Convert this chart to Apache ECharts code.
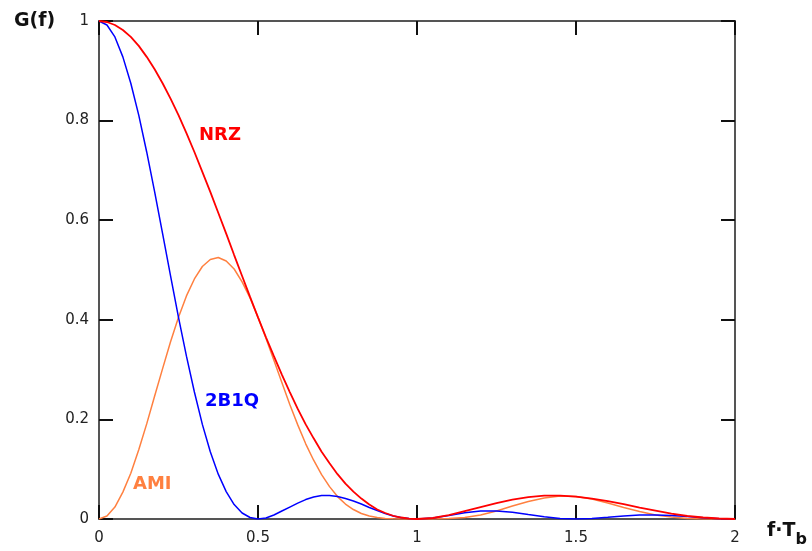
<!DOCTYPE html>
<html lang="en">
<head>
    <meta charset="UTF-8">
    <title>G(f)</title>
    <script src="https://cdn.jsdelivr.net/npm/echarts@6/dist/echarts.min.js" type="text/javascript"></script>
    <style>
        html, body { margin: 0; padding: 0; background: #fff; }
    </style>
</head>
<body>
<div id="spectrum" style="width: 812px;height:551px;"></div>
</body>

<script type="text/javascript">
    // f*Tb samples: finer in the main lobe, coarser past 1
    var freq = [0, 0.025, 0.05, 0.075, 0.1, 0.125, 0.15, 0.175, 0.2, 0.225,
        0.25, 0.275, 0.3, 0.325, 0.35, 0.375, 0.4, 0.425, 0.45, 0.475,
        0.5, 0.525, 0.55, 0.575, 0.6, 0.625, 0.65, 0.675, 0.7, 0.725,
        0.75, 0.775, 0.8, 0.825, 0.85, 0.875, 0.9, 0.925, 0.95, 0.975, 1,
        1.05, 1.1, 1.15, 1.2, 1.25, 1.3, 1.35, 1.4, 1.45, 1.5,
        1.55, 1.6, 1.65, 1.7, 1.75, 1.8, 1.85, 1.9, 1.95, 2];

    var nrz = [1, 0.998, 0.992, 0.982, 0.968, 0.950, 0.928, 0.903, 0.875, 0.844,
        0.811, 0.775, 0.737, 0.697, 0.657, 0.615, 0.573, 0.530, 0.488, 0.446,
        0.405, 0.365, 0.327, 0.290, 0.255, 0.221, 0.190, 0.162, 0.135, 0.112,
        0.090, 0.071, 0.055, 0.041, 0.029, 0.019, 0.012, 0.0065, 0.003, 0.0007, 0,
        0.002, 0.008, 0.016, 0.024, 0.032, 0.039, 0.044, 0.047, 0.047, 0.045,
        0.041, 0.036, 0.030, 0.023, 0.017, 0.011, 0.006, 0.003, 0.001, 0];

    var ami = [0, 0.006, 0.024, 0.054, 0.092, 0.139, 0.191, 0.247, 0.302, 0.356,
        0.405, 0.448, 0.482, 0.507, 0.521, 0.525, 0.518, 0.502, 0.476, 0.444,
        0.405, 0.363, 0.319, 0.274, 0.230, 0.189, 0.151, 0.118, 0.089, 0.065,
        0.045, 0.030, 0.019, 0.011, 0.006, 0.003, 0.001, 0.0004, 0, 0, 0,
        0, 0.001, 0.003, 0.008, 0.016, 0.026, 0.035, 0.042, 0.046, 0.045,
        0.040, 0.032, 0.023, 0.015, 0.008, 0.004, 0.001, 0, 0, 0];

    var b2b1q = [1, 0.992, 0.968, 0.928, 0.875, 0.811, 0.737, 0.657, 0.573, 0.488,
        0.405, 0.327, 0.255, 0.190, 0.135, 0.090, 0.055, 0.029, 0.012, 0.003,
        0, 0.002, 0.008, 0.016, 0.024, 0.032, 0.039, 0.044, 0.047, 0.047,
        0.045, 0.041, 0.036, 0.030, 0.023, 0.017, 0.011, 0.006, 0.003, 0.001, 0,
        0.002, 0.007, 0.0125, 0.016, 0.016, 0.0136, 0.009, 0.0045, 0.001, 0,
        0.001, 0.0034, 0.006, 0.008, 0.008, 0.007, 0.005, 0.0024, 0.0006, 0];

    var xTicks = ['0', '0.5', '1', '1.5', '2'];

    function pairs(ys) {
        return freq.map(function (f, i) { return [f, ys[i]]; });
    }

    var spectrum = echarts.init(document.getElementById('spectrum'));

    var tickStyle = {show: true, inside: true, length: 14, lineStyle: {color: '#111', width: 2}};
    var lineStyle = {show: true, onZero: false, lineStyle: {color: '#555', width: 2}};
    var labelStyle = {color: '#222', fontSize: 15, fontFamily: 'DejaVu Sans'};

    spectrum.setOption({
        animation: false,
        grid: {left: 99, right: 77, top: 21, bottom: 32},
        xAxis: [
            {
                type: 'value', min: 0, max: 2, interval: 0.5, position: 'bottom',
                axisLine: lineStyle, axisTick: tickStyle, splitLine: {show: false},
                axisLabel: Object.assign({margin: 12, formatter: function (v) {
                    return xTicks[Math.round(v * 2)];
                }}, labelStyle)
            },
            {
                type: 'value', min: 0, max: 2, interval: 0.5, position: 'top',
                axisLine: lineStyle, axisTick: tickStyle, splitLine: {show: false},
                axisLabel: {show: false}
            }
        ],
        yAxis: [
            {
                type: 'value', min: 0, max: 1, interval: 0.2, position: 'left',
                axisLine: lineStyle, axisTick: tickStyle, splitLine: {show: false},
                axisLabel: Object.assign({margin: 10}, labelStyle)
            },
            {
                type: 'value', min: 0, max: 1, interval: 0.2, position: 'right',
                axisLine: lineStyle, axisTick: tickStyle, splitLine: {show: false},
                axisLabel: {show: false}
            }
        ],
        series: [
            {
                name: 'AMI', type: 'line', showSymbol: false,
                lineStyle: {color: '#ff8040', width: 1.5},
                data: pairs(ami)
            },
            {
                name: '2B1Q', type: 'line', showSymbol: false,
                lineStyle: {color: '#0000ff', width: 1.5},
                data: pairs(b2b1q)
            },
            {
                name: 'NRZ', type: 'line', showSymbol: false,
                lineStyle: {color: '#ff0000', width: 1.8},
                data: pairs(nrz)
            }
        ],
        graphic: [
            {type: 'text', left: 14, top: 12, style: {text: 'G(f)', fill: '#111',
                font: 'bold 19px "DejaVu Sans"'}},
            {type: 'text', left: 199, top: 126, style: {text: 'NRZ', fill: '#ff0000',
                font: 'bold 18px "DejaVu Sans"'}},
            {type: 'text', left: 205, top: 392, style: {text: '2B1Q', fill: '#0000ff',
                font: 'bold 18px "DejaVu Sans"'}},
            {type: 'text', left: 133, top: 475, style: {text: 'AMI', fill: '#ff8040',
                font: 'bold 18px "DejaVu Sans"'}},
            {type: 'text', left: 767, top: 522, style: {
                text: '{m|f·T}{s|b}',
                rich: {
                    m: {fill: '#111', font: 'bold 19px "DejaVu Sans"', verticalAlign: 'top'},
                    s: {fill: '#111', font: 'bold 16px "DejaVu Sans"', padding: [10, 0, 0, 0]}
                }
            }}
        ]
    });
</script>
</html>
